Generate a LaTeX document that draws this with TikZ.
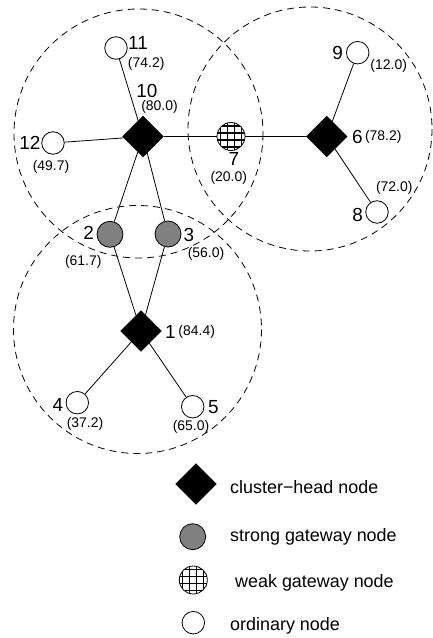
\documentclass[tikz,border=0pt]{standalone}
\usepackage{fontspec}
\setmainfont{Liberation Sans}
\usetikzlibrary{shapes.geometric,backgrounds}
\definecolor{gwgray}{RGB}{128,128,128}

\begin{document}
\begin{tikzpicture}[x=1bp,y=-1bp,
  head/.style={diamond,aspect=1,fill=black,draw=black,inner sep=0,minimum size=41bp},
  strong/.style={circle,fill=gwgray,draw=black,line width=0.8bp,inner sep=0,minimum size=26bp},
  weak/.style={circle,fill=white,draw=black,line width=0.8bp,inner sep=0,minimum size=28bp,
    path picture={
      \foreach \d in {-10.5,-3.5,3.5,10.5}{
        \draw[line width=1.2bp] ([xshift=\d bp]path picture bounding box.north) -- ([xshift=\d bp]path picture bounding box.south);
        \draw[line width=1.2bp] ([yshift=\d bp]path picture bounding box.west) -- ([yshift=\d bp]path picture bounding box.east);
      }}},
  ordinary/.style={circle,fill=white,draw=black,line width=0.8bp,inner sep=0,minimum size=22.5bp},
  idx/.style={inner sep=0,font=\fontsize{19}{19}\selectfont},
  val/.style={inner sep=0,font=\fontsize{14}{14}\selectfont},
  keytext/.style={inner sep=0,anchor=base west,font=\fontsize{18}{18}\selectfont},
  coverage/.style={draw=black,line width=0.8bp,dash pattern=on 7bp off 5bp},
  link/.style={draw=black,line width=0.8bp}]

\useasboundingbox (0,0) rectangle (432,638);

% cluster heads
\node[head] (n10) at (143,136.5) {};
\node[head] (n6)  at (326.7,136.5) {};
\node[head] (n1)  at (141,331) {};

% gateways
\node[weak]   (n7) at (231,136.5) {};
\node[strong] (n2) at (110,234.3) {};
\node[strong] (n3) at (168,234) {};

% ordinary nodes
\node[ordinary] (n11) at (116,48) {};
\node[ordinary] (n12) at (53,143) {};
\node[ordinary] (n9)  at (357.7,52.7) {};
\node[ordinary] (n8)  at (377,212) {};
\node[ordinary] (n4)  at (77.3,402.7) {};
\node[ordinary] (n5)  at (192.7,406.7) {};

% node ids and weights
\node[idx] (l11) at (138,43) {11};     \node[val] (v11) at (146.2,64) {(74.2)};
\node[idx] (l10) at (147,90.7) {10};   \node[val] (v10) at (159.5,107.3) {(80.0)};
\node[idx] (l12) at (30,142.7) {12};   \node[val] (v12) at (51,167.3) {(49.7)};
\node[idx] (l7)  at (234,158.5) {7};   \node[val] (v7)  at (228.8,178) {(20.0)};
\node[idx] (l9)  at (337.7,52.7) {9};  \node[val] (v9)  at (388.7,65.7) {(12.0)};
\node[idx] (l6)  at (357.5,137) {6};   \node[val] (v6)  at (383.3,137.3) {(78.2)};
\node[idx] (l8)  at (357.7,215) {8};   \node[val] (v8)  at (394.3,188.3) {(72.0)};
\node[idx] (l2)  at (88.7,233.3) {2};  \node[val] (v2)  at (83.3,261.7) {(61.7)};
\node[idx] (l3)  at (189,235) {3};     \node[val] (v3)  at (206,254) {(56.0)};
\node[idx] (l1)  at (170.3,331.7) {1}; \node[val] (v1)  at (196.7,332.3) {(84.4)};
\node[idx] (l4)  at (58,405) {4};      \node[val] (v4)  at (85,424.3) {(37.2)};
\node[idx] (l5)  at (213.3,406.7) {5}; \node[val] (v5)  at (191,426.7) {(65.0)};

\begin{scope}[on background layer]
  % transmission ranges of the cluster heads
  \draw[coverage] (138.5,133.5) circle[radius=124.5];
  \draw[coverage] (310,129) circle[radius=122];
  \draw[coverage] (137.5,329.5) circle[radius=124];
  % links
  \draw[link] (n10) -- (n11);
  \draw[link] (n10) -- (n12);
  \draw[link] (n10) -- (n7);
  \draw[link] (n7) -- (n6);
  \draw[link] (n6) -- (n9);
  \draw[link] (n6) -- (n8);
  \draw[link] (n10) -- (n2);
  \draw[link] (n10) -- (n3);
  \draw[link] (n2) -- (n1);
  \draw[link] (n3) -- (n1);
  \draw[link] (n1) -- (n4);
  \draw[link] (n1) -- (n5);
\end{scope}

% legend
\node[head]     (kh) at (196,484) {};
\node[strong]   (ks) at (192.7,536.7) {};
\node[weak]     (kw) at (193.3,580) {};
\node[ordinary] (ko) at (193.3,622.7) {};
\node[keytext] (th) at (230,493.3) {cluster−head node};
\node[keytext] (ts) at (230,541.7) {strong gateway node};
\node[keytext] (tw) at (230,587.7) {\ weak gateway node};
\node[keytext] (to) at (230,630.7) {ordinary node};
\end{tikzpicture}
\end{document}
